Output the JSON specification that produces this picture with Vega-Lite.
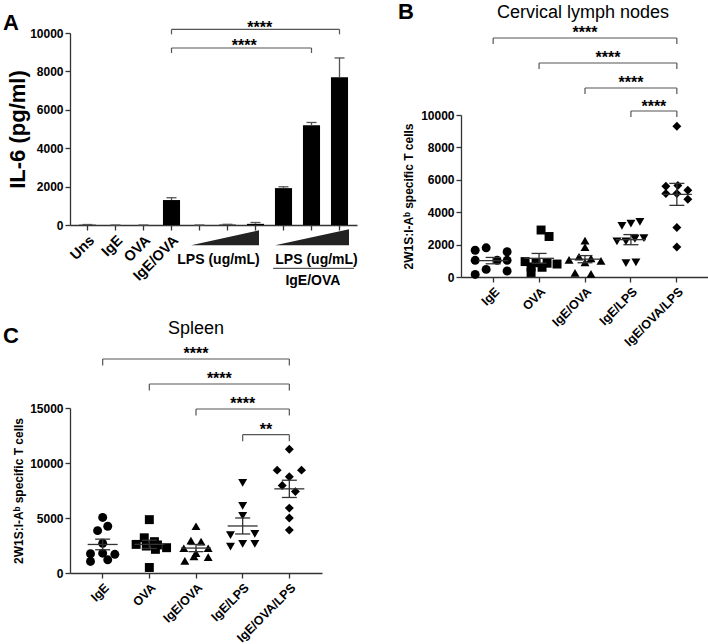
{
  "$schema": "https://vega.github.io/schema/vega-lite/v6.json",
  "background": "white",
  "padding": {"left": 2, "top": 0, "right": 0, "bottom": 0},
  "columns": 2,
  "align": "none",
  "bounds": "flush",
  "spacing": {"row": 131, "column": 104},
  "resolve": {"scale": {"shape": "independent", "xOffset": "independent"}},
  "config": {
    "view": {"stroke": null},
    "font": "Liberation Sans",
    "axis": {
      "labelFont": "Liberation Sans", "titleFont": "Liberation Sans",
      "labelFontWeight": "bold", "titleFontWeight": "bold",
      "labelColor": "#000", "titleColor": "#000",
      "domainColor": "#333", "tickColor": "#333",
      "domainWidth": 1.3, "tickWidth": 1.3, "tickSize": 5,
      "labelPadding": 2, "grid": false, "labelOverlap": false
    },
    "axisY": {"labelOverlap": false},
    "text": {"font": "Liberation Sans", "color": "#000"}
  },
  "datasets": {
    "il6": [
      {"cond": "Uns", "v": 15, "hi": 25},
      {"cond": "IgE", "v": 0, "hi": 0},
      {"cond": "OVA", "v": 0, "hi": 0},
      {"cond": "IgE/OVA", "v": 1300, "hi": 1420},
      {"cond": "LPS low", "v": 0, "hi": 0},
      {"cond": "LPS mid", "v": 20, "hi": 35},
      {"cond": "LPS high", "v": 60, "hi": 130},
      {"cond": "IgE/OVA + LPS low", "v": 1920, "hi": 1990},
      {"cond": "IgE/OVA + LPS mid", "v": 5200, "hi": 5340},
      {"cond": "IgE/OVA + LPS high", "v": 7700, "hi": 8700}
    ],
    "cln": [
      {"grp": "IgE", "v": 1650, "jit": -18}, {"grp": "IgE", "v": 1800, "jit": -7}, {"grp": "IgE", "v": 1560, "jit": 14},
      {"grp": "IgE", "v": 1030, "jit": -18}, {"grp": "IgE", "v": 1030, "jit": 4}, {"grp": "IgE", "v": 1030, "jit": 14},
      {"grp": "IgE", "v": 470, "jit": -7}, {"grp": "IgE", "v": 370, "jit": 14}, {"grp": "IgE", "v": 160, "jit": -18},
      {"grp": "OVA", "v": 2900, "jit": 2}, {"grp": "OVA", "v": 2500, "jit": 10}, {"grp": "OVA", "v": 950, "jit": -14},
      {"grp": "OVA", "v": 880, "jit": -3}, {"grp": "OVA", "v": 850, "jit": 8}, {"grp": "OVA", "v": 800, "jit": 18},
      {"grp": "OVA", "v": 620, "jit": -8}, {"grp": "OVA", "v": 600, "jit": 3}, {"grp": "OVA", "v": 280, "jit": -8},
      {"grp": "IgE/OVA", "v": 2250, "jit": 0}, {"grp": "IgE/OVA", "v": 1850, "jit": 0}, {"grp": "IgE/OVA", "v": 1250, "jit": -6},
      {"grp": "IgE/OVA", "v": 1150, "jit": 6}, {"grp": "IgE/OVA", "v": 1050, "jit": -16}, {"grp": "IgE/OVA", "v": 1000, "jit": 16},
      {"grp": "IgE/OVA", "v": 900, "jit": 0}, {"grp": "IgE/OVA", "v": 250, "jit": -10}, {"grp": "IgE/OVA", "v": 200, "jit": 6},
      {"grp": "IgE/LPS", "v": 3150, "jit": -9}, {"grp": "IgE/LPS", "v": 3300, "jit": 0}, {"grp": "IgE/LPS", "v": 3400, "jit": 9},
      {"grp": "IgE/LPS", "v": 2200, "jit": -14}, {"grp": "IgE/LPS", "v": 2200, "jit": -5}, {"grp": "IgE/LPS", "v": 2350, "jit": 4},
      {"grp": "IgE/LPS", "v": 2400, "jit": 13}, {"grp": "IgE/LPS", "v": 850, "jit": -5}, {"grp": "IgE/LPS", "v": 900, "jit": 5},
      {"grp": "IgE/OVA/LPS", "v": 9300, "jit": 0}, {"grp": "IgE/OVA/LPS", "v": 5600, "jit": -11}, {"grp": "IgE/OVA/LPS", "v": 5650, "jit": 1},
      {"grp": "IgE/OVA/LPS", "v": 5350, "jit": 11}, {"grp": "IgE/OVA/LPS", "v": 5150, "jit": -11}, {"grp": "IgE/OVA/LPS", "v": 5150, "jit": 0},
      {"grp": "IgE/OVA/LPS", "v": 4800, "jit": 11}, {"grp": "IgE/OVA/LPS", "v": 3050, "jit": 0}, {"grp": "IgE/OVA/LPS", "v": 1850, "jit": 0}
    ],
    "spl": [
      {"grp": "IgE", "v": 5050, "jit": 0}, {"grp": "IgE", "v": 4250, "jit": 5}, {"grp": "IgE", "v": 3850, "jit": -5},
      {"grp": "IgE", "v": 2700, "jit": 0}, {"grp": "IgE", "v": 1750, "jit": -12}, {"grp": "IgE", "v": 1800, "jit": 0},
      {"grp": "IgE", "v": 1700, "jit": 12}, {"grp": "IgE", "v": 1200, "jit": 5}, {"grp": "IgE", "v": 1050, "jit": -12},
      {"grp": "OVA", "v": 4850, "jit": 0}, {"grp": "OVA", "v": 3200, "jit": -5}, {"grp": "OVA", "v": 2850, "jit": 5},
      {"grp": "OVA", "v": 2600, "jit": -13}, {"grp": "OVA", "v": 2450, "jit": -3}, {"grp": "OVA", "v": 2550, "jit": 8},
      {"grp": "OVA", "v": 2300, "jit": 17}, {"grp": "OVA", "v": 2150, "jit": 6}, {"grp": "OVA", "v": 500, "jit": 0},
      {"grp": "IgE/OVA", "v": 4250, "jit": 0}, {"grp": "IgE/OVA", "v": 2950, "jit": -5}, {"grp": "IgE/OVA", "v": 2850, "jit": 5},
      {"grp": "IgE/OVA", "v": 2250, "jit": -12}, {"grp": "IgE/OVA", "v": 2250, "jit": 12}, {"grp": "IgE/OVA", "v": 1800, "jit": 0},
      {"grp": "IgE/OVA", "v": 1500, "jit": -2}, {"grp": "IgE/OVA", "v": 1450, "jit": 12}, {"grp": "IgE/OVA", "v": 1100, "jit": -11},
      {"grp": "IgE/LPS", "v": 8200, "jit": 0}, {"grp": "IgE/LPS", "v": 6100, "jit": 0}, {"grp": "IgE/LPS", "v": 5200, "jit": 0},
      {"grp": "IgE/LPS", "v": 3450, "jit": -12}, {"grp": "IgE/LPS", "v": 3550, "jit": 12}, {"grp": "IgE/LPS", "v": 2400, "jit": -12},
      {"grp": "IgE/LPS", "v": 2650, "jit": 0}, {"grp": "IgE/LPS", "v": 2650, "jit": 12},
      {"grp": "IgE/OVA/LPS", "v": 11250, "jit": 0}, {"grp": "IgE/OVA/LPS", "v": 9350, "jit": -12}, {"grp": "IgE/OVA/LPS", "v": 9350, "jit": 12},
      {"grp": "IgE/OVA/LPS", "v": 8750, "jit": 0}, {"grp": "IgE/OVA/LPS", "v": 7950, "jit": -7}, {"grp": "IgE/OVA/LPS", "v": 7400, "jit": 6},
      {"grp": "IgE/OVA/LPS", "v": 5900, "jit": 0}, {"grp": "IgE/OVA/LPS", "v": 5000, "jit": 0}, {"grp": "IgE/OVA/LPS", "v": 3900, "jit": 0}
    ],
    "aWedge": [
      {"w": "a", "x": 4.70, "top": -1060, "bot": -1060}, {"w": "a", "x": 7.125, "top": -276, "bot": -1060},
      {"w": "b", "x": 7.70, "top": -1060, "bot": -1060}, {"w": "b", "x": 10.34, "top": -224, "bot": -1060}
    ],
    "aText": [
      {"x": 5.68, "y": -2031, "t": "LPS (ug/mL)"},
      {"x": 9.18, "y": -2031, "t": "LPS (ug/mL)"},
      {"x": 9.05, "y": -3110, "t": "IgE/OVA"}
    ],
    "aLine": [{"x": 7.63, "x2": 10.52, "y": -2255}],
    "brA": [
      {"a": 4, "b": 10, "m": 7.15, "y": 10190, "y2": 9930, "ty": 10010, "lab": "****"},
      {"a": 4, "b": 9, "m": 6.6, "y": 9220, "y2": 8960, "ty": 9060, "lab": "****"}
    ],
    "brB": [
      {"a": 1, "b": 5, "m": 3, "y": 14753, "y2": 14383, "ty": 14753, "lab": "****"},
      {"a": 2, "b": 5, "m": 3.5, "y": 13210, "y2": 12840, "ty": 13210, "lab": "****"},
      {"a": 3, "b": 5, "m": 4, "y": 11667, "y2": 11296, "ty": 11667, "lab": "****"},
      {"a": 4, "b": 5, "m": 4.5, "y": 10247, "y2": 9877, "ty": 10200, "lab": "****"}
    ],
    "brC": [
      {"a": 1, "b": 5, "m": 3, "y": 19453, "y2": 18862, "ty": 19453, "lab": "****"},
      {"a": 2, "b": 5, "m": 3.5, "y": 17180, "y2": 16589, "ty": 17180, "lab": "****"},
      {"a": 3, "b": 5, "m": 4, "y": 14908, "y2": 14317, "ty": 14908, "lab": "****"},
      {"a": 4, "b": 5, "m": 4.5, "y": 12571, "y2": 11981, "ty": 12571, "lab": "**"}
    ],
    "panelA": [{"x": -2.02, "y": 10182, "t": "A"}],
    "panelB": [{"x": -1.072, "y": 15942, "t": "B"}],
    "titleB": [{"x": 2.956, "y": 16013, "t": "Cervical lymph nodes"}],
    "panelC": [{"x": -1.136, "y": 20934, "t": "C"}],
    "titleC": [{"x": 3.0, "y": 21752, "t": "Spleen"}]
  },
  "concat": [
    {
      "width": 287, "height": 192,
      "resolve": {"scale": {"x": "independent"}},
      "layer": [
        {
          "data": {"name": "il6"},
          "layer": [
            {
              "mark": {"type": "bar", "color": "#000"},
              "encoding": {
                "x": {"field": "cond", "type": "nominal",
                  "scale": {"domain": ["Uns", "IgE", "OVA", "IgE/OVA", "LPS low", "LPS mid", "LPS high", "IgE/OVA + LPS low", "IgE/OVA + LPS mid", "IgE/OVA + LPS high"], "paddingInner": 0.39, "paddingOuter": 0.32},
                  "axis": {"title": null, "labelAngle": -45, "labelFontSize": 14.5, "labelPadding": 3, "labelExpr": "indexof(datum.value, 'LPS') >= 0 ? '' : datum.value"}},
                "y": {"field": "v", "type": "quantitative", "title": "IL-6 (pg/ml)", "scale": {"domain": [0, 10000], "nice": false},
                  "axis": {"title": "IL-6 (pg/ml)", "titleFontSize": 22, "titlePadding": 0, "values": [0, 2000, 4000, 6000, 8000, 10000], "tickCount": 6, "format": "d", "labelFontSize": 12, "labelOverlap": false}}
              }
            },
            {
              "mark": {"type": "rule", "color": "#555", "strokeWidth": 1.3},
              "encoding": {"x": {"field": "cond", "type": "nominal"},
                "y": {"field": "v", "type": "quantitative", "title": "IL-6 (pg/ml)",
                  "axis": {"title": "IL-6 (pg/ml)", "titleFontSize": 22, "titlePadding": 0, "values": [0, 2000, 4000, 6000, 8000, 10000], "tickCount": 6, "format": "d", "labelFontSize": 12, "labelOverlap": false}},
                "y2": {"field": "hi"}}
            },
            {
              "mark": {"type": "tick", "orient": "horizontal", "size": 10, "thickness": 1.3, "color": "#555", "opacity": 1},
              "encoding": {"x": {"field": "cond", "type": "nominal"},
                "y": {"field": "hi", "type": "quantitative", "title": "IL-6 (pg/ml)",
                  "axis": {"title": "IL-6 (pg/ml)", "titleFontSize": 22, "titlePadding": 0, "values": [0, 2000, 4000, 6000, 8000, 10000], "tickCount": 6, "format": "d", "labelFontSize": 12, "labelOverlap": false}}}
            }
          ]
        },
        {
          "layer": [
            {
              "data": {"name": "aWedge"},
              "mark": {"type": "area", "color": "#222", "opacity": 1},
              "encoding": {
                "x": {"field": "x", "type": "quantitative", "scale": {"domain": [0.375, 10.625], "nice": false, "zero": false}, "axis": null},
                "y": {"field": "top", "type": "quantitative", "title": "IL-6 (pg/ml)", "stack": null,
                  "axis": {"title": "IL-6 (pg/ml)", "titleFontSize": 22, "titlePadding": 0, "values": [0, 2000, 4000, 6000, 8000, 10000], "tickCount": 6, "format": "d", "labelFontSize": 12, "labelOverlap": false}},
                "y2": {"field": "bot"},
                "detail": {"field": "w", "type": "nominal"}
              }
            },
            {
              "data": {"name": "aText"},
              "mark": {"type": "text", "fontSize": 14, "fontWeight": "bold", "baseline": "alphabetic"},
              "encoding": {
                "x": {"field": "x", "type": "quantitative", "axis": null},
                "y": {"field": "y", "type": "quantitative", "title": "IL-6 (pg/ml)",
                  "axis": {"title": "IL-6 (pg/ml)", "titleFontSize": 22, "titlePadding": 0, "values": [0, 2000, 4000, 6000, 8000, 10000], "tickCount": 6, "format": "d", "labelFontSize": 12, "labelOverlap": false}},
                "text": {"field": "t"}
              }
            },
            {
              "data": {"name": "aLine"},
              "mark": {"type": "rule", "color": "#555", "strokeWidth": 1.3},
              "encoding": {
                "x": {"field": "x", "type": "quantitative", "axis": null}, "x2": {"field": "x2"},
                "y": {"field": "y", "type": "quantitative", "title": "IL-6 (pg/ml)",
                  "axis": {"title": "IL-6 (pg/ml)", "titleFontSize": 22, "titlePadding": 0, "values": [0, 2000, 4000, 6000, 8000, 10000], "tickCount": 6, "format": "d", "labelFontSize": 12, "labelOverlap": false}}
              }
            },
            {
              "data": {"name": "brA"},
              "layer": [
                {"mark": {"type": "rule", "color": "#555", "strokeWidth": 1.2},
                 "encoding": {"x": {"field": "a", "type": "quantitative", "axis": null}, "x2": {"field": "b"},
                   "y": {"field": "y", "type": "quantitative", "title": "IL-6 (pg/ml)",
                     "axis": {"title": "IL-6 (pg/ml)", "titleFontSize": 22, "titlePadding": 0, "values": [0, 2000, 4000, 6000, 8000, 10000], "tickCount": 6, "format": "d", "labelFontSize": 12, "labelOverlap": false}}}},
                {"mark": {"type": "rule", "color": "#555", "strokeWidth": 1.2},
                 "encoding": {"x": {"field": "a", "type": "quantitative", "axis": null},
                   "y": {"field": "y", "type": "quantitative", "title": "IL-6 (pg/ml)",
                     "axis": {"title": "IL-6 (pg/ml)", "titleFontSize": 22, "titlePadding": 0, "values": [0, 2000, 4000, 6000, 8000, 10000], "tickCount": 6, "format": "d", "labelFontSize": 12, "labelOverlap": false}},
                   "y2": {"field": "y2"}}},
                {"mark": {"type": "rule", "color": "#555", "strokeWidth": 1.2},
                 "encoding": {"x": {"field": "b", "type": "quantitative", "axis": null},
                   "y": {"field": "y", "type": "quantitative", "title": "IL-6 (pg/ml)",
                     "axis": {"title": "IL-6 (pg/ml)", "titleFontSize": 22, "titlePadding": 0, "values": [0, 2000, 4000, 6000, 8000, 10000], "tickCount": 6, "format": "d", "labelFontSize": 12, "labelOverlap": false}},
                   "y2": {"field": "y2"}}},
                {"mark": {"type": "text", "fontSize": 16, "fontWeight": "bold", "baseline": "alphabetic"},
                 "encoding": {"x": {"field": "m", "type": "quantitative", "axis": null},
                   "y": {"field": "ty", "type": "quantitative", "title": "IL-6 (pg/ml)",
                     "axis": {"title": "IL-6 (pg/ml)", "titleFontSize": 22, "titlePadding": 0, "values": [0, 2000, 4000, 6000, 8000, 10000], "tickCount": 6, "format": "d", "labelFontSize": 12, "labelOverlap": false}},
                   "text": {"field": "lab"}}}
              ]
            },
            {
              "data": {"name": "panelA"},
              "mark": {"type": "text", "fontSize": 22, "fontWeight": "bold", "align": "left", "baseline": "alphabetic"},
              "encoding": {
                "x": {"field": "x", "type": "quantitative", "axis": null},
                "y": {"field": "y", "type": "quantitative", "title": "IL-6 (pg/ml)",
                  "axis": {"title": "IL-6 (pg/ml)", "titleFontSize": 22, "titlePadding": 0, "values": [0, 2000, 4000, 6000, 8000, 10000], "tickCount": 6, "format": "d", "labelFontSize": 12, "labelOverlap": false}},
                "text": {"field": "t"}
              }
            }
          ]
        }
      ]
    },
    {
      "width": 248, "height": 244,
      "resolve": {"scale": {"x": "independent"}},
      "layer": [
        {
          "data": {"name": "cln"},
          "layer": [
            {
              "mark": {"type": "point", "filled": true, "color": "#000", "opacity": 1, "size": 80},
              "encoding": {
                "x": {"field": "grp", "type": "nominal",
                  "scale": {"domain": ["IgE", "OVA", "IgE/OVA", "IgE/LPS", "IgE/OVA/LPS"], "paddingInner": 0, "paddingOuter": 0.2},
                  "axis": {"title": null, "labelAngle": -45, "labelFontSize": 12.5, "labelPadding": 3}},
                "xOffset": {"field": "jit", "type": "quantitative", "scale": {"domain": [-23, 23], "nice": false, "zero": false}},
                "y": {"field": "v", "type": "quantitative", "title": "2W1S:I-Aᵇ specific T cells", "scale": {"domain": [0, 10000], "nice": false, "range": [244, 82]},
                  "axis": {"title": "2W1S:I-Aᵇ specific T cells", "titleFontSize": 12, "titlePadding": 5, "values": [0, 2000, 4000, 6000, 8000, 10000], "format": "d", "labelFontSize": 12, "labelOverlap": false}},
                "shape": {"field": "grp", "type": "nominal",
                  "scale": {"domain": ["IgE", "OVA", "IgE/OVA", "IgE/LPS", "IgE/OVA/LPS"], "range": ["circle", "square", "triangle-up", "triangle-down", "diamond"]},
                  "legend": null}
              }
            },
            {
              "mark": {"type": "errorbar", "extent": "stderr", "color": "#333", "thickness": 1.3, "ticks": {"size": 15, "thickness": 1.3, "color": "#333", "opacity": 1}},
              "encoding": {"x": {"field": "grp", "type": "nominal"}, "y": {"field": "v", "type": "quantitative", "title": "2W1S:I-Aᵇ specific T cells"}}
            },
            {
              "mark": {"type": "tick", "orient": "horizontal", "size": 30, "thickness": 1.3, "color": "#333", "opacity": 1},
              "encoding": {"x": {"field": "grp", "type": "nominal"}, "y": {"field": "v", "type": "quantitative", "aggregate": "mean", "title": "2W1S:I-Aᵇ specific T cells"}}
            }
          ]
        },
        {
          "layer": [
            {
              "data": {"name": "brB"},
              "layer": [
                {"mark": {"type": "rule", "color": "#555", "strokeWidth": 1.2},
                 "encoding": {"x": {"field": "a", "type": "quantitative", "scale": {"domain": [0.3, 5.7], "nice": false, "zero": false}, "axis": null}, "x2": {"field": "b"}, "y": {"field": "y", "type": "quantitative", "title": "2W1S:I-Aᵇ specific T cells"}}},
                {"mark": {"type": "rule", "color": "#555", "strokeWidth": 1.2},
                 "encoding": {"x": {"field": "a", "type": "quantitative", "axis": null}, "y": {"field": "y", "type": "quantitative", "title": "2W1S:I-Aᵇ specific T cells"}, "y2": {"field": "y2"}}},
                {"mark": {"type": "rule", "color": "#555", "strokeWidth": 1.2},
                 "encoding": {"x": {"field": "b", "type": "quantitative", "axis": null}, "y": {"field": "y", "type": "quantitative", "title": "2W1S:I-Aᵇ specific T cells"}, "y2": {"field": "y2"}}},
                {"mark": {"type": "text", "fontSize": 16, "fontWeight": "bold", "baseline": "alphabetic"},
                 "encoding": {"x": {"field": "m", "type": "quantitative", "axis": null}, "y": {"field": "ty", "type": "quantitative", "title": "2W1S:I-Aᵇ specific T cells"}, "text": {"field": "lab"}}}
              ]
            },
            {
              "data": {"name": "panelB"},
              "mark": {"type": "text", "fontSize": 22, "fontWeight": "bold", "align": "left", "baseline": "alphabetic"},
              "encoding": {"x": {"field": "x", "type": "quantitative", "axis": null}, "y": {"field": "y", "type": "quantitative", "title": "2W1S:I-Aᵇ specific T cells"}, "text": {"field": "t"}}
            },
            {
              "data": {"name": "titleB"},
              "mark": {"type": "text", "fontSize": 18, "fontWeight": "normal", "baseline": "alphabetic"},
              "encoding": {"x": {"field": "x", "type": "quantitative", "axis": null}, "y": {"field": "y", "type": "quantitative", "title": "2W1S:I-Aᵇ specific T cells"}, "text": {"field": "t"}}
            }
          ]
        }
      ]
    },
    {
      "width": 252, "height": 165,
      "resolve": {"scale": {"x": "independent"}},
      "layer": [
        {
          "data": {"name": "spl"},
          "layer": [
            {
              "mark": {"type": "point", "filled": true, "color": "#000", "opacity": 1, "size": 80},
              "encoding": {
                "x": {"field": "grp", "type": "nominal",
                  "scale": {"domain": ["IgE", "OVA", "IgE/OVA", "IgE/LPS", "IgE/OVA/LPS"], "paddingInner": 0, "paddingOuter": 0.2},
                  "axis": {"title": null, "labelAngle": -45, "labelFontSize": 12.5, "labelPadding": 3}},
                "xOffset": {"field": "jit", "type": "quantitative", "scale": {"domain": [-23, 23], "nice": false, "zero": false}},
                "y": {"field": "v", "type": "quantitative", "title": "2W1S:I-Aᵇ specific T cells", "scale": {"domain": [0, 15000], "nice": false},
                  "axis": {"title": "2W1S:I-Aᵇ specific T cells", "titleFontSize": 12, "titlePadding": 4, "values": [0, 5000, 10000, 15000], "format": "d", "labelFontSize": 12, "labelOverlap": false}},
                "shape": {"field": "grp", "type": "nominal",
                  "scale": {"domain": ["IgE", "OVA", "IgE/OVA", "IgE/LPS", "IgE/OVA/LPS"], "range": ["circle", "square", "triangle-up", "triangle-down", "diamond"]},
                  "legend": null}
              }
            },
            {
              "mark": {"type": "errorbar", "extent": "stderr", "color": "#333", "thickness": 1.3, "ticks": {"size": 15, "thickness": 1.3, "color": "#333", "opacity": 1}},
              "encoding": {"x": {"field": "grp", "type": "nominal"}, "y": {"field": "v", "type": "quantitative", "title": "2W1S:I-Aᵇ specific T cells"}}
            },
            {
              "mark": {"type": "tick", "orient": "horizontal", "size": 30, "thickness": 1.3, "color": "#333", "opacity": 1},
              "encoding": {"x": {"field": "grp", "type": "nominal"}, "y": {"field": "v", "type": "quantitative", "aggregate": "mean", "title": "2W1S:I-Aᵇ specific T cells"}}
            }
          ]
        },
        {
          "layer": [
            {
              "data": {"name": "brC"},
              "layer": [
                {"mark": {"type": "rule", "color": "#555", "strokeWidth": 1.2},
                 "encoding": {"x": {"field": "a", "type": "quantitative", "scale": {"domain": [0.3, 5.7], "nice": false, "zero": false}, "axis": null}, "x2": {"field": "b"}, "y": {"field": "y", "type": "quantitative", "title": "2W1S:I-Aᵇ specific T cells"}}},
                {"mark": {"type": "rule", "color": "#555", "strokeWidth": 1.2},
                 "encoding": {"x": {"field": "a", "type": "quantitative", "axis": null}, "y": {"field": "y", "type": "quantitative", "title": "2W1S:I-Aᵇ specific T cells"}, "y2": {"field": "y2"}}},
                {"mark": {"type": "rule", "color": "#555", "strokeWidth": 1.2},
                 "encoding": {"x": {"field": "b", "type": "quantitative", "axis": null}, "y": {"field": "y", "type": "quantitative", "title": "2W1S:I-Aᵇ specific T cells"}, "y2": {"field": "y2"}}},
                {"mark": {"type": "text", "fontSize": 16, "fontWeight": "bold", "baseline": "alphabetic"},
                 "encoding": {"x": {"field": "m", "type": "quantitative", "axis": null}, "y": {"field": "ty", "type": "quantitative", "title": "2W1S:I-Aᵇ specific T cells"}, "text": {"field": "lab"}}}
              ]
            },
            {
              "data": {"name": "panelC"},
              "mark": {"type": "text", "fontSize": 22, "fontWeight": "bold", "align": "left", "baseline": "alphabetic"},
              "encoding": {"x": {"field": "x", "type": "quantitative", "axis": null}, "y": {"field": "y", "type": "quantitative", "title": "2W1S:I-Aᵇ specific T cells"}, "text": {"field": "t"}}
            },
            {
              "data": {"name": "titleC"},
              "mark": {"type": "text", "fontSize": 18, "fontWeight": "normal", "baseline": "alphabetic"},
              "encoding": {"x": {"field": "x", "type": "quantitative", "axis": null}, "y": {"field": "y", "type": "quantitative", "title": "2W1S:I-Aᵇ specific T cells"}, "text": {"field": "t"}}
            }
          ]
        }
      ]
    }
  ]
}
